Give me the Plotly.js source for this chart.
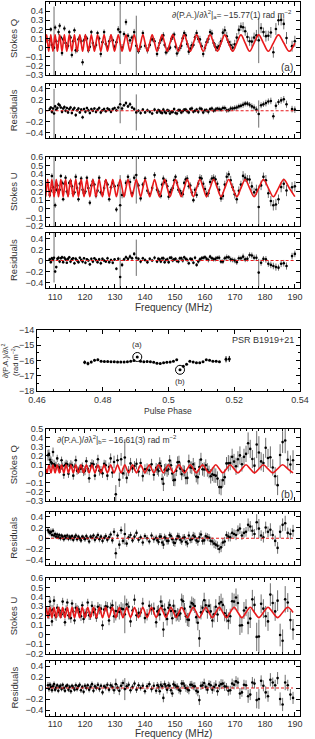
<!DOCTYPE html>
<html><head><meta charset="utf-8">
<script src="https://cdn.plot.ly/plotly-3.0.1.min.js"></script>
<style>html,body{margin:0;padding:0;background:#fff}#c{width:315px;height:739px}</style>
</head><body><div id="c"></div>
<script>
// ---------- group (a): frequencies (MHz) ----------
const freqA=[106.87,107.21,107.55,107.90,108.25,108.60,108.96,109.32,109.68,110.05,
110.42,110.80,111.18,111.56,111.95,112.34,112.73,113.13,113.53,113.94,
114.35,114.77,115.19,115.62,116.05,116.48,116.92,117.37,117.82,118.28,
118.74,119.20,119.68,120.15,120.64,121.13,121.62,122.12,122.63,123.15,
123.67,124.19,124.73,125.27,125.82,126.37,126.94,127.51,128.08,128.67,
129.26,129.87,130.48,131.10,131.73,132.37,133.01,133.67,134.34,135.01,
135.70,136.40,137.11,137.83,138.56,139.30,140.05,140.82,141.60,142.40,
143.20,144.02,144.86,145.71,146.57,147.45,148.35,149.26,150.19,151.14,
152.11,153.09,154.09,155.12,156.16,157.23,158.32,159.43,160.56,161.72,
162.91,164.12,165.36,166.62,167.92,169.25,170.61,172.00,173.43,174.89,
176.39,177.93,179.51,181.14,182.81,184.53,186.29,188.11,189.98];
const modelQa=[0.05,0.14,0.05,-0.04,0.05,0.14,0.05,-0.04,0.05,0.14,0.05,-0.04,0.05,0.14,0.05,-0.04,0.05,0.14,0.05,-0.04,
0.05,0.14,0.05,-0.04,0.05,0.14,0.05,-0.04,0.05,0.14,0.05,-0.04,0.05,0.14,0.05,-0.04,0.05,0.14,0.05,-0.04,
0.05,0.14,0.05,-0.04,0.05,0.14,0.05,-0.04,0.05,0.14,0.05,-0.04,0.05,0.14,0.05,-0.04,0.05,0.14,0.05,-0.04,
0.05,0.14,0.05,-0.04,0.05,0.14,0.05,-0.04,0.05,0.14,0.05,-0.04,0.05,0.14,0.05,-0.04,0.05,0.14,0.05,-0.04,
0.05,0.14,0.05,-0.04,0.05,0.14,0.05,-0.04,0.05,0.14,0.05,-0.04,0.05,0.14,0.05,-0.04,0.05,0.14,0.05,-0.04,
0.05,0.14,0.05,-0.04,0.05,0.14,0.05,-0.04,0.05];
const modelUa=[0.14,0.24,0.34,0.24,0.14,0.24,0.34,0.24,0.14,0.24,0.34,0.24,0.14,0.24,0.34,0.24,0.14,0.24,0.34,0.24,
0.14,0.24,0.34,0.24,0.14,0.24,0.34,0.24,0.14,0.24,0.34,0.24,0.14,0.24,0.34,0.24,0.14,0.24,0.34,0.24,
0.14,0.24,0.34,0.24,0.14,0.24,0.34,0.24,0.14,0.24,0.34,0.24,0.14,0.24,0.34,0.24,0.14,0.24,0.34,0.24,
0.14,0.24,0.34,0.24,0.14,0.24,0.34,0.24,0.14,0.24,0.34,0.24,0.14,0.24,0.34,0.24,0.14,0.24,0.34,0.24,
0.14,0.24,0.34,0.24,0.14,0.24,0.34,0.24,0.14,0.24,0.34,0.24,0.14,0.24,0.34,0.24,0.14,0.24,0.34,0.24,
0.14,0.24,0.34,0.24,0.14,0.24,0.34,0.24,0.14];
const stokesQa=[null,null,null,null,0.08,0.20,0.03,0.00,0.00,0.22,
0.07,0.01,0.17,0.24,0.11,-0.06,0.09,0.21,0.05,0.01,
0.02,0.17,0.11,-0.08,0.07,0.19,-0.03,-0.03,0.09,0.11,
0.07,-0.16,0.08,0.12,0.10,-0.03,0.01,0.17,0.05,0.00,
0.03,0.16,0.10,-0.07,0.06,0.17,0.04,0.00,0.07,0.12,
0.08,0.01,0.06,0.20,0.17,0.00,0.15,0.28,0.13,0.08,
0.11,0.17,0.02,-0.04,0.01,0.16,0.02,-0.03,0.03,0.09,
0.07,-0.07,0.05,0.10,0.03,-0.03,0.00,0.12,0.01,-0.03,
0.02,0.16,0.04,-0.01,0.03,0.16,0.09,-0.07,0.06,0.17,
0.05,0.00,0.07,0.19,0.06,0.00,0.11,0.23,0.18,0.07,
0.11,0.08,0.17,0.13,-0.05,0.30,0.26,null,0.07];
const residQa=[null,null,null,null,0.03,0.06,-0.02,0.04,-0.05,0.08,
0.02,0.05,0.12,0.10,0.06,-0.02,0.04,0.07,0.00,0.05,
-0.03,0.03,0.06,-0.04,0.02,0.05,-0.08,0.01,0.04,-0.03,
0.02,-0.12,0.03,-0.02,0.05,0.01,-0.04,0.03,0.00,0.04,
-0.02,0.02,0.05,-0.03,0.01,0.03,-0.01,0.04,0.02,-0.02,
0.03,0.05,0.01,0.06,0.12,0.04,0.10,0.14,0.08,0.12,
0.06,0.03,-0.03,0.00,-0.04,0.02,-0.03,0.01,-0.02,-0.05,
0.02,-0.03,0.00,-0.04,-0.02,0.01,-0.05,-0.02,-0.04,0.01,
-0.03,0.02,-0.01,0.03,-0.02,0.02,0.04,-0.03,0.01,0.03,
0.00,0.04,0.02,0.05,0.01,0.04,0.06,0.09,0.13,0.11,
0.06,-0.06,0.12,0.17,-0.10,0.16,0.21,null,0.02];
const stokesUa=[null,null,null,null,0.16,0.21,0.38,0.25,0.19,0.04,
0.22,0.27,0.19,0.22,0.38,0.30,0.11,0.29,0.36,0.20,
0.17,0.30,0.32,0.26,0.18,0.19,0.37,0.24,0.11,0.29,
0.35,0.22,0.18,0.20,0.36,0.24,0.07,0.27,0.32,0.28,
0.15,0.21,0.36,0.19,0.17,0.24,0.32,0.28,0.11,0.25,
0.30,0.26,-0.01,0.27,0.04,0.16,0.16,0.30,0.37,0.31,
0.18,0.36,0.39,0.27,0.12,0.28,0.35,0.21,0.17,0.24,
0.39,0.22,0.16,0.28,0.31,0.26,0.19,0.24,0.37,0.22,
0.18,0.30,0.35,0.27,0.10,0.16,0.36,0.29,0.17,0.31,
0.36,0.29,0.12,0.28,0.40,0.25,0.11,0.28,0.36,0.34,
0.19,0.02,0.37,0.18,0.04,0.11,0.29,null,0.26];
const residUa=[null,null,null,null,0.02,-0.03,0.04,0.01,0.05,-0.20,
-0.12,0.03,0.05,-0.02,0.04,0.06,-0.03,0.05,0.02,-0.04,
0.03,0.06,-0.02,0.02,0.04,-0.05,0.03,0.00,-0.03,0.05,
0.01,-0.02,0.04,-0.04,0.02,0.00,-0.07,0.03,-0.02,0.04,
0.01,-0.03,0.02,-0.05,0.03,0.00,-0.02,0.04,-0.03,0.01,
-0.04,0.02,-0.15,0.03,-0.30,-0.08,0.02,0.06,0.03,0.07,
0.04,0.12,0.05,0.03,-0.02,0.04,0.01,-0.03,0.03,0.00,
0.05,-0.02,0.02,0.04,-0.03,0.02,0.05,0.00,0.03,-0.02,
0.04,0.06,0.01,0.03,-0.04,-0.08,0.02,0.05,0.03,0.07,
0.02,0.05,-0.02,0.04,0.06,0.01,-0.03,0.04,0.02,0.10,
0.05,-0.22,0.03,-0.06,-0.10,-0.13,-0.05,null,0.12];
const errA=[0.03,0.03,0.03,0.03,0.03,0.025,0.03,0.025,0.45,0.03,
0.025,0.03,0.035,0.03,0.025,0.03,0.025,0.03,0.03,0.025,
0.03,0.025,0.03,0.03,0.025,0.03,0.035,0.025,0.03,0.025,
0.03,0.035,0.025,0.03,0.025,0.03,0.03,0.025,0.03,0.025,
0.03,0.025,0.03,0.035,0.025,0.03,0.025,0.03,0.03,0.025,
0.03,0.025,0.03,0.035,0.35,0.04,0.03,0.035,0.03,0.04,
0.03,0.035,0.33,0.03,0.035,0.03,0.03,0.035,0.03,0.03,
0.035,0.03,0.03,0.035,0.03,0.035,0.03,0.035,0.03,0.035,
0.035,0.03,0.04,0.035,0.03,0.035,0.04,0.035,0.04,0.035,
0.04,0.035,0.04,0.045,0.04,0.045,0.05,0.045,0.05,0.05,
0.055,0.25,0.05,0.055,0.06,0.055,0.06,0.06,0.06];
// extra channels (a), upper band
const freqA2=[144.44,145.29,146.14,147.01,147.90,148.81,149.73,150.67,151.63,152.60,
153.59,154.61,155.64,156.70,157.78,158.88,160.00,161.14,162.32,163.52,
164.74,165.99,167.27,168.59,169.93,171.31,172.72,174.16,175.64,177.16,
178.72,180.33,181.98,183.67,185.41,187.20,189.05];
const stokesQa2=[-0.004,0.084,0.134,-0.054,-0.014,0.094,0.144,-0.064,-0.004,0.104,
0.134,-0.044,0.026,0.114,0.094,0.016,-0.004,0.094,0.154,0.006,
0.016,0.164,0.124,0.026,0.036,0.194,0.224,0.116,0.066,0.134,
0.214,0.126,0.166,0.204,0.304,0.106,0.016];
const residQa2=[0.01,-0.03,0.02,-0.04,0.00,-0.02,0.03,-0.05,0.01,-0.01,
0.02,-0.03,0.04,0.00,-0.02,0.03,0.01,-0.02,0.04,0.02,
0.03,0.05,0.01,0.04,0.05,0.08,0.11,0.13,0.08,0.02,
0.10,0.14,0.18,0.09,0.19,0.12,0.03];
const stokesUa2=[0.199,0.149,0.351,0.321,0.139,0.219,0.331,0.301,0.209,0.169,
0.341,0.261,0.189,0.219,0.291,0.351,0.229,0.179,0.351,0.341,
0.219,0.149,0.371,0.331,0.169,0.209,0.381,0.341,0.259,0.219,
0.271,0.331,0.089,0.049,0.251,0.211,0.249];
const residUa2=[0.03,-0.02,0.04,0.01,-0.03,0.05,0.02,-0.01,0.04,0.00,
0.03,-0.05,0.02,0.05,-0.02,0.04,0.06,0.01,0.04,0.03,
0.05,-0.02,0.06,0.02,0.00,0.04,0.07,0.03,0.09,0.05,
-0.04,0.02,-0.08,-0.12,-0.06,-0.10,0.08];
const errA2=[0.035,0.03,0.035,0.03,0.035,0.035,0.03,0.035,0.035,0.04,
0.035,0.035,0.04,0.035,0.04,0.04,0.04,0.045,0.04,0.045,
0.045,0.045,0.05,0.05,0.05,0.05,0.055,0.05,0.055,0.06,
0.055,0.06,0.06,0.065,0.06,0.065,0.06];

// ---------- group (b) ----------
const freqB=[107.01,107.33,107.66,107.99,108.32,108.65,108.99,109.34,109.68,110.03,
110.38,110.74,111.10,111.46,111.82,112.19,112.56,112.94,113.32,113.71,
114.10,114.49,114.89,115.29,115.69,116.10,116.51,116.94,117.36,117.79,
118.22,118.66,119.10,119.54,119.99,120.46,120.92,121.39,121.86,122.33,
122.83,123.31,123.81,124.31,124.82,125.33,125.85,126.39,126.92,127.46,
128.01,128.56,129.13,129.69,130.28,130.86,131.45,132.05,132.66,133.28,
133.91,134.55,135.19,135.85,136.51,137.18,137.87,138.56,139.27,139.99,
140.71,141.45,142.20,142.96,143.73,144.52,145.32,146.14,146.96,147.81,
148.67,149.54,150.42,151.33,152.25,153.18,154.14,155.11,156.11,157.11,
158.14,159.20,160.27,161.36,162.48,163.62,164.78,165.97,167.19,168.43,
169.71,171.00,172.33,173.70,175.10,176.52,177.99,179.49,181.03,182.61,
184.23,185.90,187.62,189.38];
const modelQb=[0.055,0.01,0.055,0.10,0.055,0.01,0.055,0.10,0.055,0.01,0.055,0.10,0.055,0.01,0.055,0.10,0.055,0.01,0.055,0.10,
0.055,0.01,0.055,0.10,0.055,0.01,0.055,0.10,0.055,0.01,0.055,0.10,0.055,0.01,0.055,0.10,0.055,0.01,0.055,0.10,
0.055,0.01,0.055,0.10,0.055,0.01,0.055,0.10,0.055,0.01,0.055,0.10,0.055,0.01,0.055,0.10,0.055,0.01,0.055,0.10,
0.055,0.01,0.055,0.10,0.055,0.01,0.055,0.10,0.055,0.01,0.055,0.10,0.055,0.01,0.055,0.10,0.055,0.01,0.055,0.10,
0.055,0.01,0.055,0.10,0.055,0.01,0.055,0.10,0.055,0.01,0.055,0.10,0.055,0.01,0.055,0.10,0.055,0.01,0.055,0.10,
0.055,0.01,0.055,0.10,0.055,0.01,0.055,0.10,0.055,0.01,0.055,0.10,0.055,0.01];
const modelUb=[0.29,0.235,0.18,0.235,0.29,0.235,0.18,0.235,0.29,0.235,0.18,0.235,0.29,0.235,0.18,0.235,0.29,0.235,0.18,0.235,
0.29,0.235,0.18,0.235,0.29,0.235,0.18,0.235,0.29,0.235,0.18,0.235,0.29,0.235,0.18,0.235,0.29,0.235,0.18,0.235,
0.29,0.235,0.18,0.235,0.29,0.235,0.18,0.235,0.29,0.235,0.18,0.235,0.29,0.235,0.18,0.235,0.29,0.235,0.18,0.235,
0.29,0.235,0.18,0.235,0.29,0.235,0.18,0.235,0.29,0.235,0.18,0.235,0.29,0.235,0.18,0.235,0.29,0.235,0.18,0.235,
0.29,0.235,0.18,0.235,0.29,0.235,0.18,0.235,0.29,0.235,0.18,0.235,0.29,0.235,0.18,0.235,0.29,0.235,0.18,0.235,
0.29,0.235,0.18,0.235,0.29,0.235,0.18,0.235,0.29,0.235,0.18,0.235,0.29,0.235];
const stokesQb=[null,null,0.205,0.22,0.155,0.13,0.115,0.24,0.105,0.09,
0.085,0.17,0.075,0.07,0.055,0.15,0.085,-0.01,0.095,0.11,
0.105,0.00,0.085,0.10,0.095,-0.02,0.075,0.15,0.035,0.04,
0.055,0.06,0.085,0.02,0.035,0.14,0.055,-0.05,0.085,0.11,
0.105,-0.02,0.075,0.16,0.035,0.04,0.005,0.11,0.095,-0.02,
0.075,0.17,0.015,0.13,-0.225,0.15,-0.065,0.16,0.005,0.18,
-0.045,0.03,0.115,0.06,0.085,0.11,0.025,0.12,-0.025,0.05,
0.055,0.04,0.105,-0.01,0.065,0.03,0.085,-0.11,0.055,0.05,
0.095,-0.07,0.035,0.13,-0.005,0.03,-0.045,0.07,0.105,-0.03,
0.075,0.05,0.095,0.02,-0.005,-0.02,-0.145,-0.07,0.115,0.12,
0.135,0.16,0.105,0.22,0.275,0.09,0.235,0.12,0.175,0.07,
-0.125,0.35,0.155,0.15];
const residQb=[null,null,0.15,0.12,0.10,0.12,0.06,0.14,0.05,0.08,
0.03,0.07,0.02,0.06,0.00,0.05,0.03,-0.02,0.04,0.01,
0.05,-0.01,0.03,0.00,0.04,-0.03,0.02,0.05,-0.02,0.03,
0.00,-0.04,0.03,0.01,-0.02,0.04,0.00,-0.06,0.03,0.01,
0.05,-0.03,0.02,0.06,-0.02,0.03,-0.05,0.01,0.04,-0.03,
0.02,0.07,-0.04,0.12,-0.28,0.05,-0.12,0.15,-0.05,0.08,
-0.10,0.02,0.06,-0.04,0.03,0.10,-0.03,0.02,-0.08,0.04,
0.00,-0.06,0.05,-0.02,0.01,-0.07,0.03,-0.12,0.00,-0.05,
0.04,-0.08,-0.02,0.03,-0.06,0.02,-0.10,-0.03,0.05,-0.04,
0.02,-0.05,0.04,0.01,-0.06,-0.12,-0.20,-0.08,0.06,0.02,
0.08,0.15,0.05,0.12,0.22,0.08,0.18,0.02,0.12,0.06,
-0.18,0.25,0.10,0.14];
const stokesUb=[null,null,0.23,0.215,0.35,0.255,0.14,0.265,0.36,0.205,
0.19,0.285,0.24,0.255,0.22,0.215,0.35,0.235,0.13,0.265,
0.34,0.205,0.20,0.175,0.33,0.245,0.15,0.285,0.27,0.265,
0.24,0.195,0.31,0.165,0.22,0.235,0.34,0.205,0.20,0.305,
0.24,0.265,0.18,0.295,0.27,0.275,0.10,0.265,0.30,0.295,
0.15,0.285,0.31,0.195,0.25,0.245,0.24,0.275,0.27,0.215,
0.32,0.295,0.14,0.255,0.37,0.205,0.23,0.235,0.33,0.175,
0.21,0.305,0.27,0.275,0.13,0.255,0.35,0.055,0.21,0.285,
0.25,0.305,0.20,0.205,0.37,0.275,0.16,0.295,0.32,0.185,
-0.04,0.285,0.31,0.305,0.15,0.295,0.33,0.315,0.20,0.195,
0.35,0.335,0.10,0.285,0.17,0.315,-0.02,0.275,0.14,0.335,
0.36,-0.065,0.34,0.055];
const residUb=[null,null,0.05,-0.02,0.06,0.02,-0.04,0.03,0.07,-0.03,
0.01,0.05,-0.05,0.02,0.04,-0.02,0.06,0.00,-0.05,0.03,
0.05,-0.03,0.02,-0.06,0.04,0.01,-0.03,0.05,-0.02,0.03,
0.06,-0.04,0.02,-0.07,0.04,0.00,0.05,-0.03,0.02,0.07,
-0.05,0.03,0.00,0.06,-0.02,0.04,-0.08,0.03,0.01,0.06,
-0.03,0.05,0.02,-0.04,0.07,0.01,-0.05,0.04,0.09,-0.02,
0.03,0.06,-0.04,0.02,0.08,-0.03,0.05,0.00,0.04,-0.06,
0.03,0.07,-0.02,0.04,-0.05,0.02,0.06,-0.18,0.03,0.05,
-0.04,0.07,0.02,-0.03,0.08,0.04,-0.02,0.06,0.03,-0.05,
-0.22,0.05,0.02,0.07,-0.03,0.06,0.04,0.08,0.02,-0.04,
0.06,0.10,-0.08,0.05,-0.12,0.08,-0.20,0.04,-0.15,0.10,
0.18,-0.30,0.05,-0.18];
const errB=[0.05,0.05,0.06,0.05,0.05,0.06,0.05,0.05,0.05,0.045,
0.045,0.04,0.045,0.04,0.045,0.04,0.04,0.045,0.04,0.045,
0.04,0.045,0.04,0.05,0.04,0.045,0.04,0.05,0.045,0.04,
0.045,0.05,0.04,0.045,0.05,0.045,0.04,0.05,0.045,0.05,
0.045,0.05,0.045,0.05,0.055,0.045,0.05,0.045,0.055,0.05,
0.05,0.055,0.06,0.07,0.10,0.06,0.08,0.07,0.06,0.20,
0.06,0.055,0.06,0.05,0.055,0.06,0.055,0.05,0.06,0.055,
0.06,0.055,0.06,0.065,0.055,0.06,0.065,0.08,0.06,0.065,
0.06,0.065,0.06,0.07,0.065,0.06,0.07,0.065,0.07,0.065,
0.09,0.07,0.065,0.07,0.075,0.08,0.08,0.075,0.07,0.08,
0.085,0.09,0.08,0.09,0.10,0.09,0.18,0.10,0.10,0.09,
0.11,0.12,0.10,0.11];
// extra channels (b), upper band
const freqB2=[144.13,144.92,145.73,146.55,147.39,148.24,149.11,149.98,150.88,151.79,
152.72,153.66,154.63,155.61,156.61,157.63,158.67,159.74,160.82,161.92,
163.05,164.20,165.38,166.58,167.81,169.07,170.36,171.67,173.02,174.40,
175.81,177.26,178.74,180.26,181.82,183.42,185.07,186.76,188.50];
const stokesQb2=[0.047,0.117,-0.057,0.043,0.037,0.147,0.003,-0.067,0.127,0.057,
0.033,-0.047,0.137,0.067,0.053,-0.037,0.157,0.047,0.043,-0.027,
-0.013,-0.053,-0.147,-0.037,0.117,0.187,0.083,0.203,0.187,0.337,
0.163,0.323,0.137,0.287,0.183,-0.027,0.207,0.367,0.103];
const residQb2=[-0.04,0.03,-0.08,0.02,-0.05,0.06,-0.02,-0.09,0.04,-0.03,
0.01,-0.07,0.05,-0.02,0.03,-0.06,0.07,-0.04,0.02,-0.05,
-0.10,-0.14,-0.17,-0.06,0.03,0.10,0.06,0.18,0.10,0.25,
0.14,0.30,0.05,0.20,0.16,-0.05,0.12,0.28,0.08];
const stokesUb2=[0.246,0.214,0.304,0.266,0.166,0.314,0.174,0.246,0.216,0.224,
0.354,0.196,0.156,0.334,0.304,0.126,0.236,0.364,0.244,0.246,
0.216,0.214,0.344,0.226,0.146,0.354,0.394,0.096,0.256,0.124,
0.374,-0.024,0.326,0.194,0.424,0.246,-0.004,0.374,0.154];
const residUb2=[0.05,-0.06,0.03,0.07,-0.03,0.04,-0.10,0.05,0.02,-0.05,
0.08,0.00,-0.04,0.06,0.03,-0.07,0.04,0.09,-0.03,0.05,
0.02,-0.06,0.07,0.03,-0.05,0.08,0.12,-0.10,0.06,-0.15,
0.10,-0.22,0.13,-0.08,0.15,0.05,-0.20,0.10,-0.12];
const errB2=[0.06,0.065,0.06,0.065,0.07,0.06,0.065,0.07,0.065,0.07,
0.065,0.07,0.075,0.07,0.075,0.08,0.075,0.08,0.075,0.08,
0.085,0.08,0.09,0.085,0.09,0.09,0.095,0.10,0.09,0.12,
0.10,0.15,0.10,0.11,0.12,0.10,0.12,0.14,0.10];

// ---------- middle panel: RM vs pulse phase ----------
const pulsePhase=[0.4745,0.4755,0.4765,0.4775,0.4785,0.4795,0.4805,0.4815,0.4825,0.4835,
0.4845,0.4855,0.4865,0.4875,0.4885,0.4895,0.4905,0.4915,0.4925,0.4935,
0.4945,0.4955,0.4965,0.4975,0.4985,0.4995,0.5005,0.5015,0.5025,0.5035,
0.5045,0.5055,0.5065,0.5075,0.5085,0.5095,0.5105,0.5115,0.5125,0.5135,
0.5145,0.5155,0.5175,0.5185];
const rmValue=[-16.12,-16.20,-16.10,-15.98,-15.95,-16.05,-16.07,-16.07,-16.08,-16.08,
-16.10,-16.10,-16.10,-16.08,-16.05,-16.00,-15.77,-16.05,-16.08,-16.07,
-16.08,-16.12,-16.18,-16.20,-16.15,-16.12,-16.10,-16.05,-15.95,-16.61,
-16.38,-16.25,-16.05,-16.10,-16.15,-16.15,-16.08,-15.95,-15.98,-16.05,
-16.05,-16.08,-15.92,-15.90];
const rmError=[0.12,0.12,0.08,0.08,0.07,0.05,0.04,0.04,0.04,0.04,
0.04,0.04,0.04,0.04,0.04,0.04,0.04,0.04,0.04,0.04,
0.04,0.04,0.04,0.04,0.04,0.04,0.04,0.04,0.04,0.05,
0.05,0.05,0.04,0.04,0.04,0.04,0.04,0.04,0.04,0.04,
0.05,0.05,0.20,0.20];
const markedIdx=[16,29];
const markedLabels=['(a)','(b)'];

// ---------- drawing ----------
const W=315,H=739,FONT='Liberation Sans, Arial, sans-serif',TXT='#333';
const FX=[46/W,300/W], MX=[37/W,300/W];
const FR=[107,191.7];
const panels=[
 {top:2,bot:75,yr:[-0.3,0.5],dt:0.1,xl:false},
 {top:83.5,bot:138,yr:[-0.5,0.5],dt:0.2,xl:false},
 {top:157,bot:226,yr:[-0.2,0.6],dt:0.1,xl:false},
 {top:233,bot:288,yr:[-0.5,0.5],dt:0.2,xl:true},
 {top:330,bot:391,yr:[-18,-14],dt:1,xl:true,mid:true},
 {top:428.5,bot:501,yr:[-0.3,0.5],dt:0.1,xl:false},
 {top:511.5,bot:565,yr:[-0.5,0.5],dt:0.2,xl:false},
 {top:578,bot:653.5,yr:[-0.2,0.6],dt:0.1,xl:false},
 {top:660.5,bot:715.5,yr:[-0.5,0.5],dt:0.2,xl:true}
];
const layout={width:W,height:H,margin:{l:0,r:0,t:0,b:0},paper_bgcolor:'#fff',plot_bgcolor:'#fff',
 showlegend:false,font:{family:FONT,color:TXT,size:9},annotations:[]};
function sfx(n){return n===1?'':String(n);}
panels.forEach((p,k)=>{
 const n=k+1;
 const base={showline:true,mirror:'allticks',linecolor:'#000',linewidth:1,ticks:'inside',ticklen:4,
   tickcolor:'#000',tickwidth:1,zeroline:false,showgrid:false,fixedrange:true,
   tickfont:{family:FONT,size:9,color:TXT}};
 layout['xaxis'+sfx(n)]=Object.assign({},base,{
   domain:p.mid?MX:FX, range:p.mid?[0.46,0.54]:FR, anchor:'y'+sfx(n),
   dtick:p.mid?0.02:10, tick0:0, showticklabels:p.xl,
   minor:{dtick:p.mid?0.005:2,ticks:'inside',ticklen:2,tickcolor:'#000',showgrid:false}});
 layout['yaxis'+sfx(n)]=Object.assign({},base,{
   domain:[1-p.bot/H,1-p.top/H], range:p.yr, anchor:'x'+sfx(n), dtick:p.dt, tick0:0,
   minor:p.mid?{dtick:0.5,ticks:'inside',ticklen:2,tickcolor:'#000',showgrid:false}:undefined});
});
const traces=[];
function pts(x,y,err,n){
 traces.push({x:x,y:y,type:'scatter',mode:'markers',xaxis:'x'+sfx(n),yaxis:'y'+sfx(n),hoverinfo:'skip',
  error_y:{type:'data',array:err,color:'#6e6e6e',thickness:1,width:0},
  marker:{symbol:'circle',size:2.6,color:'#000',line:{width:0}}});
}
function model(x,y,n){
 traces.push({x:x,y:y,type:'scatter',mode:'lines',xaxis:'x'+sfx(n),yaxis:'y'+sfx(n),hoverinfo:'skip',
  line:{color:'#e8191b',width:1.6,shape:'spline',smoothing:1}});
}
function zero(x,n){
 traces.push({x:[x[0],x[x.length-1]],y:[0,0],type:'scatter',mode:'lines',xaxis:'x'+sfx(n),yaxis:'y'+sfx(n),
  hoverinfo:'skip',line:{color:'#e8191b',width:1.2,dash:'3px,2px'}});
}
pts(freqA,stokesQa,errA,1); pts(freqA2,stokesQa2,errA2,1); model(freqA,modelQa,1);
pts(freqA,residQa,errA,2); pts(freqA2,residQa2,errA2,2); zero(freqA,2);
pts(freqA,stokesUa,errA,3); pts(freqA2,stokesUa2,errA2,3); model(freqA,modelUa,3);
pts(freqA,residUa,errA,4); pts(freqA2,residUa2,errA2,4); zero(freqA,4);
pts(freqB,stokesQb,errB,6); pts(freqB2,stokesQb2,errB2,6); model(freqB,modelQb,6);
pts(freqB,residQb,errB,7); pts(freqB2,residQb2,errB2,7); zero(freqB,7);
pts(freqB,stokesUb,errB,8); pts(freqB2,stokesUb2,errB2,8); model(freqB,modelUb,8);
pts(freqB,residUb,errB,9); pts(freqB2,residUb2,errB2,9); zero(freqB,9);
traces.push({x:pulsePhase,y:rmValue,type:'scatter',mode:'markers',xaxis:'x5',yaxis:'y5',hoverinfo:'skip',
 error_y:{type:'data',array:rmError,color:'#000',thickness:1,width:0},
 marker:{symbol:'circle',size:3,color:'#000',line:{width:0}}});
traces.push({x:markedIdx.map(i=>pulsePhase[i]),y:markedIdx.map(i=>rmValue[i]),type:'scatter',mode:'markers',
 xaxis:'x5',yaxis:'y5',hoverinfo:'skip',marker:{symbol:'circle-open',size:9,color:'#000',line:{width:1,color:'#000'}}});

const A=layout.annotations;
function note(text,xp,yp,opt){
 A.push(Object.assign({text:text,xref:'paper',yref:'paper',x:xp/W,y:1-yp/H,showarrow:false,
  xanchor:'center',yanchor:'middle',font:{family:FONT,size:9.5,color:TXT}},opt||{}));
}
note('Stokes Q',13.5,38.5,{textangle:-90});
note('Residuals',13.5,110.75,{textangle:-90});
note('Stokes U',13.5,191.5,{textangle:-90});
note('Residuals',13.5,260.5,{textangle:-90});
note('Frequency (MHz)',173,307,{font:{family:FONT,size:10,color:TXT}});
note('Stokes Q',13.5,464.75,{textangle:-90});
note('Residuals',13.5,538.25,{textangle:-90});
note('Stokes U',13.5,615.75,{textangle:-90});
note('Residuals',13.5,688,{textangle:-90});
note('Frequency (MHz)',173,733,{font:{family:FONT,size:10,color:TXT}});
note('∂(P.A.)/∂λ<sup>2</sup><br>(rad m<sup>−2</sup>)',10,361,{textangle:-90,font:{family:FONT,size:7.5,color:TXT}});
note('Pulse Phase',168,411,{font:{family:FONT,size:8.5,color:TXT}});
note('PSR B1919+21',296,340,{xanchor:'right',font:{family:FONT,size:9,color:TXT}});
note('∂(P.A.)/∂λ<sup>2</sup>|<sub>a</sub>= −15.77(1) rad m<sup>−2</sup>',170,14,{xanchor:'left',font:{family:FONT,size:8.5,color:TXT}});
note('(a)',287,68,{font:{family:FONT,size:10,color:TXT}});
note('∂(P.A.)/∂λ<sup>2</sup>|<sub>b</sub>= −16.61(3) rad m<sup>−2</sup>',55,440,{xanchor:'left',font:{family:FONT,size:8.5,color:TXT}});
note('(b)',287,495,{font:{family:FONT,size:10,color:TXT}});
markedIdx.forEach((idx,k)=>{
 A.push({text:markedLabels[k],xref:'x5',yref:'y5',x:pulsePhase[idx],y:rmValue[idx],showarrow:false,
  yshift:k===0?12:-12,font:{family:FONT,size:8,color:TXT}});
});
Plotly.newPlot('c',traces,layout,{staticPlot:true,displayModeBar:false});
</script></body></html>
